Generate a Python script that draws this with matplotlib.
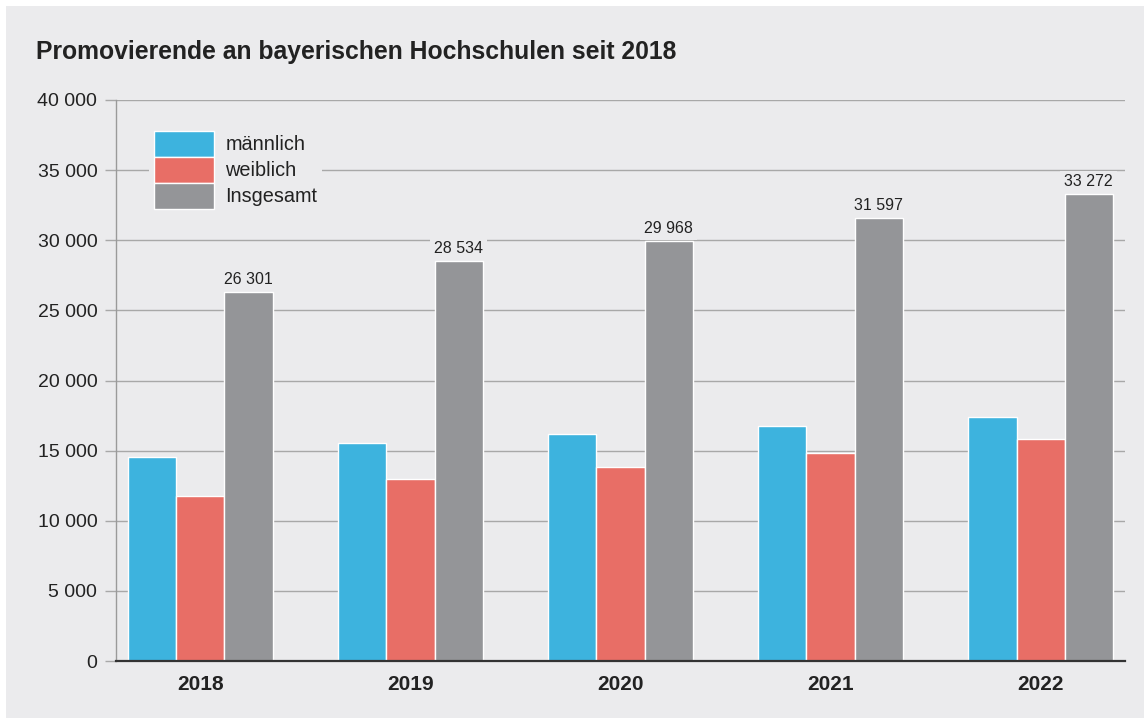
import matplotlib
matplotlib.use("Agg")
import matplotlib.pyplot as plt
import numpy as np
from matplotlib.patches import Rectangle

years = ["2018", "2019", "2020", "2021", "2022"]
maennlich = [14520, 15530, 16150, 16780, 17430]
weiblich = [11781, 13004, 13818, 14817, 15842]
insgesamt = [26301, 28534, 29968, 31597, 33272]
series_names = ["männlich", "weiblich", "Insgesamt"]
y_ticks = [0, 5000, 10000, 15000, 20000, 25000, 30000, 35000, 40000]
title = "Promovierende an bayerischen Hochschulen seit 2018"

BLUE = "#3db3de"
RED = "#e86e66"
GRAY = "#949598"
PANEL = "#ebebed"
GRID = "#a8a8a8"

plt.rcParams['font.family'] = ['Liberation Sans', 'DejaVu Sans']

W, H = 1144, 718
fig = plt.figure(figsize=(W / 100, H / 100), dpi=100, facecolor="white")
fig.patches.append(Rectangle((6 / W, 0), 1 - 6 / W, 1 - 6 / H, transform=fig.transFigure,
                             facecolor=PANEL, edgecolor="none", zorder=-10))

ax = fig.add_axes([116 / W, 1 - 661 / H, (1125 - 116) / W, (661 - 100) / H])
ax.set_facecolor("none")

x = np.arange(len(years))
bw = 0.229
colors = [BLUE, RED, GRAY]
for i, (vals, c, name) in enumerate(zip([maennlich, weiblich, insgesamt], colors, series_names)):
    ax.bar(x + (i - 1) * bw, vals, width=bw, color=c, edgecolor="white", linewidth=1.0,
           label=name, zorder=3)

for xi, v in zip(x, insgesamt):
    lbl = f"{v:,}".replace(",", " ")
    ax.annotate(lbl, (xi + bw, v), xytext=(0, 3.5), textcoords="offset points",
                ha="center", va="bottom", fontsize=11.5, color="#222222", zorder=4,
                bbox=dict(boxstyle="square,pad=0.25", facecolor=PANEL, edgecolor="none"))

ax.set_xlim(-0.402, 4.402)
ax.set_ylim(0, 40000)
ax.set_yticks(y_ticks)
ax.set_yticklabels([f"{t:,}".replace(",", " ") for t in y_ticks], fontsize=14, color="#222222")
ax.set_xticks(x)
ax.set_xticklabels(years, fontsize=15, fontweight="bold", color="#222222")
ax.tick_params(axis="x", length=0, pad=10)
ax.tick_params(axis="y", length=8, width=1, color=GRID, pad=5.5)
ax.yaxis.grid(True, color=GRID, linewidth=1.0, zorder=0)
ax.set_axisbelow(True)
for s in ["top", "right"]:
    ax.spines[s].set_visible(False)
ax.spines["left"].set_color("#9a9a9a")
ax.spines["left"].set_linewidth(1.0)
ax.spines["bottom"].set_color("#333333")
ax.spines["bottom"].set_linewidth(1.6)
ax.spines["bottom"].set_zorder(5)

leg = ax.legend(loc="upper left", bbox_to_anchor=(149 / W, 1 - 126 / H), bbox_transform=fig.transFigure,
                fontsize=14.3, handlelength=3.0, handleheight=1.63, labelspacing=0.0,
                handletextpad=0.6, borderpad=0.25, borderaxespad=0, frameon=True,
                fancybox=False, framealpha=1)
leg.get_frame().set_facecolor(PANEL)
leg.get_frame().set_edgecolor("none")
for t in leg.get_texts():
    t.set_color("#222222")

fig.text(36 / W, 1 - 52 / H, title, fontsize=17.8, fontweight="bold", color="#222222",
         ha="left", va="center")

fig.savefig("out.png", dpi=100, facecolor="white")
